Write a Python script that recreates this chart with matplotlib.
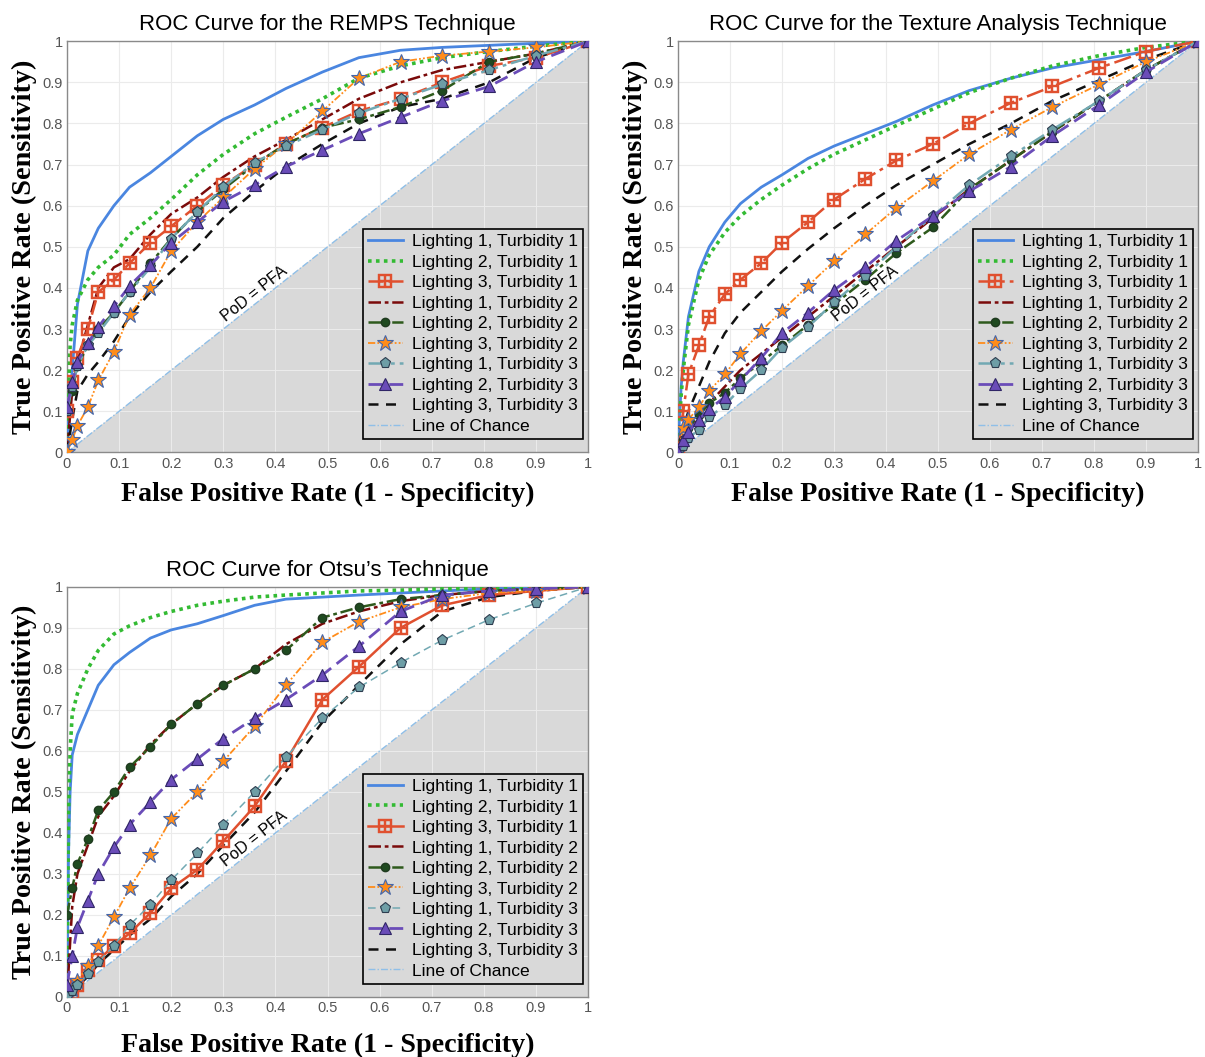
import matplotlib
matplotlib.use("Agg")
import matplotlib.pyplot as plt

# false positive rates where the marked curves are sampled
fpr = [0, .01, .02, .04, .06, .09, .12, .16, .20, .25, .30, .36, .42, .49, .56, .64, .72, .81, .90, 1.0]
# finer grid for the steep unmarked curves
fpr_fine = [0, .003, .006, .01, .02, .04, .06, .09, .12, .16, .20, .25, .30, .36, .42, .49, .56, .64, .72, .81, .90, 1.0]

labels = ["Lighting 1, Turbidity 1", "Lighting 2, Turbidity 1", "Lighting 3, Turbidity 1",
          "Lighting 1, Turbidity 2", "Lighting 2, Turbidity 2", "Lighting 3, Turbidity 2",
          "Lighting 1, Turbidity 3", "Lighting 2, Turbidity 3", "Lighting 3, Turbidity 3"]
ticks = [0, .1, .2, .3, .4, .5, .6, .7, .8, .9, 1]
tick_labels = ["0", "0.1", "0.2", "0.3", "0.4", "0.5", "0.6", "0.7", "0.8", "0.9", "1"]

# REMPS
remps_l1t1 = [0, .08, .14, .20, .36, .49, .545, .60, .645, .68, .72, .77, .81, .845, .885, .925, .96, .978, .985, .99, .995, 1]
remps_l2t1 = [0, .15, .26, .31, .37, .42, .45, .48, .53, .57, .615, .675, .725, .775, .815, .86, .91, .94, .96, .975, .988, 1]
remps_l3t1 = [.10, .17, .23, .30, .39, .42, .46, .51, .55, .60, .65, .70, .75, .79, .83, .86, .90, .94, .96, 1]
remps_l1t2 = [0, .15, .22, .31, .40, .45, .47, .53, .58, .62, .67, .72, .76, .81, .86, .90, .93, .95, .97, 1]
remps_l2t2 = [.10, .15, .21, .26, .30, .34, .39, .46, .52, .585, .64, .70, .75, .79, .81, .84, .88, .95, .97, 1]
remps_l3t2 = [0, .03, .065, .11, .175, .245, .335, .40, .49, .56, .62, .69, .75, .83, .91, .95, .965, .975, .985, 1]
remps_l1t3 = [.10, .16, .21, .26, .29, .34, .39, .45, .52, .585, .645, .705, .745, .785, .825, .86, .895, .93, .965, 1]
remps_l2t3 = [.11, .17, .22, .265, .305, .355, .405, .455, .51, .56, .61, .65, .695, .735, .775, .815, .855, .89, .95, 1]
remps_l3t3 = [0, .08, .15, .19, .22, .27, .33, .39, .44, .50, .57, .635, .695, .75, .80, .84, .86, .90, .96, 1]

# Texture analysis
tex_l1t1 = [0, .09, .16, .22, .33, .44, .50, .56, .605, .645, .675, .715, .745, .775, .805, .845, .88, .91, .935, .955, .975, 1]
tex_l2t1 = [0, .08, .14, .20, .31, .42, .48, .535, .575, .615, .65, .69, .725, .76, .795, .835, .875, .91, .94, .965, .985, 1]
tex_l3t1 = [0, .10, .19, .26, .33, .385, .42, .46, .51, .56, .615, .665, .71, .75, .80, .85, .89, .935, .975, 1]
tex_l1t2 = [0, .03, .05, .09, .12, .16, .20, .24, .28, .33, .38, .44, .50, .57, .64, .71, .78, .855, .93, 1]
tex_l2t2 = [0, .03, .06, .09, .12, .145, .18, .22, .26, .31, .36, .42, .485, .547, .64, .71, .78, .855, .93, 1]
tex_l3t2 = [0, .06, .08, .11, .15, .19, .24, .295, .345, .405, .465, .53, .595, .66, .725, .785, .84, .895, .95, 1]
tex_l1t3 = [0, .015, .035, .055, .085, .115, .155, .20, .255, .305, .365, .43, .50, .575, .65, .72, .785, .855, .93, 1]
tex_l2t3 = [0, .03, .05, .08, .105, .135, .175, .23, .29, .34, .395, .45, .515, .575, .635, .695, .77, .845, .925, 1]
tex_l3t3 = [0, .06, .10, .16, .22, .29, .34, .39, .44, .495, .545, .60, .65, .70, .75, .80, .855, .905, .955, 1]

# Otsu
otsu_l1t1 = [0, .35, .50, .59, .64, .70, .76, .81, .84, .875, .895, .91, .93, .955, .97, .975, .98, .985, .99, .995, .998, 1]
otsu_l2t1 = [0, .45, .60, .69, .74, .80, .845, .885, .905, .925, .94, .955, .965, .975, .98, .985, .99, .992, .995, .997, .999, 1]
otsu_l3t1 = [0, .01, .03, .065, .09, .125, .155, .205, .265, .31, .38, .465, .575, .725, .805, .90, .955, .98, .99, 1]
otsu_l1t2 = [0, .22, .30, .37, .44, .49, .55, .615, .665, .715, .76, .80, .86, .91, .94, .965, .98, .99, .995, 1]
otsu_l2t2 = [.20, .265, .325, .385, .455, .50, .56, .61, .665, .715, .76, .80, .845, .925, .95, .97, .98, .99, .995, 1]
otsu_l3t2 = [0, .02, .04, .075, .125, .195, .265, .345, .435, .50, .575, .66, .76, .865, .915, .95, .97, .985, .99, 1]
otsu_l1t3 = [0, .015, .03, .055, .085, .125, .175, .225, .285, .35, .42, .50, .585, .68, .755, .815, .87, .92, .96, 1]
otsu_l2t3 = [.03, .10, .17, .235, .30, .365, .42, .475, .53, .58, .63, .68, .725, .785, .855, .94, .98, .99, .995, 1]
otsu_l3t3 = [0, .01, .025, .05, .08, .115, .15, .19, .245, .30, .37, .45, .55, .67, .76, .86, .94, .975, .99, 1]

panels = [
    ("ROC Curve for the REMPS Technique", [0.0556, 0.572, 0.4325, 0.389],
     [remps_l1t1, remps_l2t1, remps_l3t1, remps_l1t2, remps_l2t2, remps_l3t2, remps_l1t3, remps_l2t3, remps_l3t3],
     {"l3t1": (0, (6, 2)), "l1t3": (0, (7, 2, 1.5, 2))}),
    ("ROC Curve for the Texture Analysis Technique", [0.5627, 0.572, 0.4315, 0.389],
     [tex_l1t1, tex_l2t1, tex_l3t1, tex_l1t2, tex_l2t2, tex_l3t2, tex_l1t3, tex_l2t3, tex_l3t3],
     {"l3t1": (0, (7, 2, 1.5, 2)), "l1t3": (0, (7, 2, 1.5, 2))}),
    ("ROC Curve for Otsu\u2019s Technique", [0.0556, 0.0568, 0.4325, 0.388],
     [otsu_l1t1, otsu_l2t1, otsu_l3t1, otsu_l1t2, otsu_l2t2, otsu_l3t2, otsu_l1t3, otsu_l2t3, otsu_l3t3],
     {"l3t1": "-", "l1t3": (0, (5, 3))}),
]

fig = plt.figure(figsize=(12.05, 10.57), dpi=100)
sans = "Liberation Sans"
serif = "Liberation Serif"

for title, rect, curves, ls in panels:
    ax = fig.add_axes(rect)
    l1t1, l2t1, l3t1, l1t2, l2t2, l3t2, l1t3, l2t3, l3t3 = curves
    bottom_row = rect[1] < 0.3

    ax.fill([0, 1, 1], [0, 0, 1], color="#d9d9d9", zorder=0, lw=0)
    ax.grid(True, color="#ebebeb", lw=0.8, zorder=0.5)
    ax.set_axisbelow(True)

    ax.plot(fpr_fine, l1t1, color="#4a86e0", lw=2, ls="-", label=labels[0], zorder=3)
    ax.plot(fpr_fine, l2t1, color="#33bb33", lw=2.6, ls=(0, (1, 1.2)), label=labels[1], zorder=3)
    ax.plot(fpr, l3t1, color="#e0502f", lw=1.8, ls=ls["l3t1"], marker="$\\boxplus$", ms=10,
            mec="#e0502f", mfc="#e0502f", mew=0.3, label=labels[2], zorder=4)
    ax.plot(fpr, l1t2, color="#7a0a0a", lw=1.8, ls=(0, (5, 1.5, 1.5, 1.5)), label=labels[3], zorder=3)
    ax.plot(fpr, l2t2, color="#2e5a1c", lw=1.8, ls=(0, (5, 1.5, 1.5, 1.5)), marker="o", ms=6,
            mfc="#1f4a20", mec="#1f3a1f", label=labels[4], zorder=4)
    ax.plot(fpr, l3t2, color="#ff8c1a", lw=1.3, ls=(0, (4, 1.2, 1, 1.2, 1, 1.2)), marker="*", ms=12,
            mfc="#ff8c1a", mec="#4466aa", mew=0.8, label=labels[5], zorder=4)
    ax.plot(fpr, l1t3, color="#72a9b3", lw=1.1 if bottom_row else 1.8, ls=ls["l1t3"],
            marker="p", ms=8, mfc="#6e9ea6", mec="#2d3d4f", mew=0.8, label=labels[6], zorder=4)
    ax.plot(fpr, l2t3, color="#6a4cb8", lw=2, ls=(0, (5, 2.5)), marker="^", ms=9,
            mfc="#6a4cb8", mec="#2f2566", mew=0.8, label=labels[7], zorder=4)
    ax.plot(fpr, l3t3, color="#111111", lw=1.8, ls=(0, (4, 3)), label=labels[8], zorder=3)
    ax.plot([0, 1], [0, 1], color="#8fbfe8", lw=1, ls=(0, (5, 1.5, 1, 1.5)), label="Line of Chance", zorder=2)

    ax.text(0.36, 0.385, "PoD = PFA", rotation=38.3, ha="center", va="center",
            fontsize=11.5, family=sans, zorder=5)

    ax.set_xlim(0, 1)
    ax.set_ylim(0, 1)
    ax.set_xticks(ticks)
    ax.set_yticks(ticks)
    ax.set_xticklabels(tick_labels, family=sans, fontsize=10.5, color="#555555")
    ax.set_yticklabels(tick_labels, family=sans, fontsize=10.5, color="#555555")
    ax.tick_params(length=0, pad=3)
    for s in ax.spines.values():
        s.set_color("#8a8a8a")
        s.set_linewidth(1)

    ax.set_title(title, family=sans, fontsize=16, pad=8)
    ax.set_ylabel("True Positive Rate (Sensitivity)", family=serif, fontweight="bold", fontsize=20.3, labelpad=4)
    ax.set_xlabel("False Positive Rate (1 - Specificity)", family=serif, fontweight="bold", fontsize=20.2,
                  labelpad=13 if bottom_row else 8)

    leg = ax.legend(loc="lower right", bbox_to_anchor=(0.99, 0.032), borderaxespad=0,
                    prop={"family": sans, "size": 12.6},
                    facecolor="#d9d9d9", edgecolor="black", framealpha=1, fancybox=False,
                    handlelength=2.0, labelspacing=0.3, borderpad=0.3, handletextpad=0.5)
    leg.get_frame().set_linewidth(1.2)
    leg.set_zorder(10)

fig.savefig("out.png", dpi=100)
